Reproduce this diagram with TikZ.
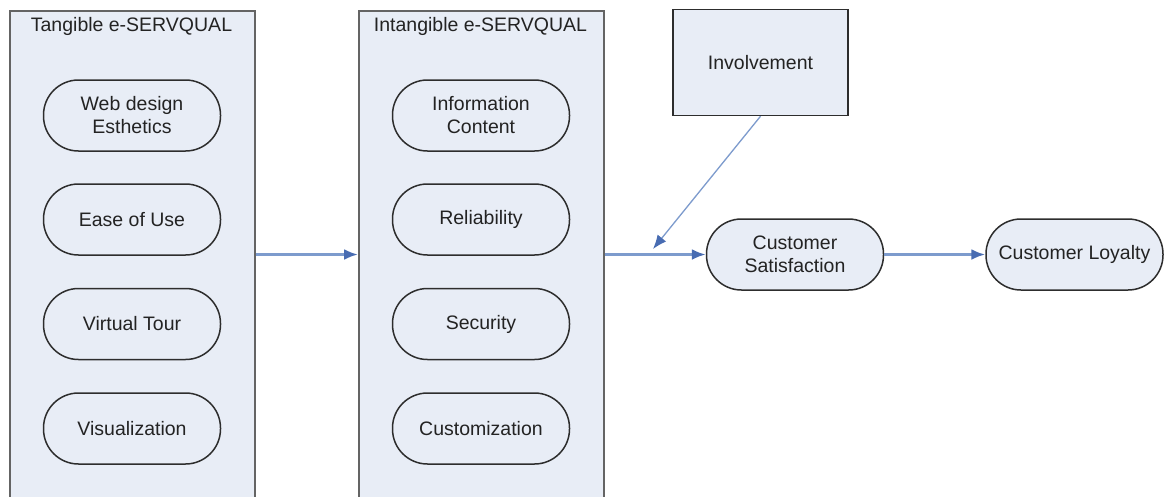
\documentclass[tikz,border=0pt]{standalone}
\usepackage{fontspec}
\setmainfont{Liberation Sans}
\usetikzlibrary{arrows.meta}
\definecolor{panelfill}{RGB}{232,237,246}
\definecolor{panelline}{RGB}{100,100,100}
\definecolor{shapeline}{RGB}{45,45,45}
\definecolor{txt}{RGB}{35,35,35}
\definecolor{arrline}{RGB}{125,155,205}
\definecolor{arrhead}{RGB}{72,108,178}
\tikzset{
  panel/.style={draw=panelline, line width=1.8pt, fill=panelfill, minimum width=245pt, minimum height=520pt, anchor=north west, inner sep=0pt},
  paneltitle/.style={text=txt, font=\fontsize{19.5}{23}\selectfont, anchor=center, inner sep=0pt},
  stadium/.style={draw=shapeline, line width=1.5pt, fill=panelfill, rounded corners=35pt, minimum width=177pt, minimum height=71pt, align=center, text=txt, font=\fontsize{19.5}{23}\selectfont, inner sep=0pt},
  boxnode/.style={draw=shapeline, line width=1.5pt, fill=panelfill, minimum width=175pt, minimum height=106pt, text=txt, font=\fontsize{19.5}{23}\selectfont, inner sep=0pt},
  flow/.style={draw=arrline, line width=2.6pt, -{Latex[length=14pt,width=11pt,color=arrhead]}},
  thinflow/.style={draw=arrline, line width=1.3pt, -{Latex[length=14pt,width=11pt,color=arrhead]}}
}
\begin{document}
\begin{tikzpicture}[x=1pt,y=-1pt]
\clip (0,0) rectangle (1168,496);
\fill[white] (0,0) rectangle (1168,496);
% panels
\node[panel] (tang) at (9,10) {};
\node[panel] (intang) at (358,10) {};
\node[paneltitle] (tangt) at (131.5,26) {Tangible e-SERVQUAL};
\node[paneltitle] (intangt) at (480.5,26) {Intangible e-SERVQUAL};
% tangible items
\node[stadium] (web) at (132,115.5) {Web design\\Esthetics};
\node[stadium] (ease) at (132,219.5) {Ease of Use};
\node[stadium] (tour) at (132,324) {Virtual Tour};
\node[stadium] (vis) at (132,428.5) {Visualization};
% intangible items
\node[stadium] (info) at (481,115.5) {Information\\Content};
\node[stadium] (rel) at (481,219.5) {Reliability};
\node[stadium] (sec) at (481,324) {Security};
\node[stadium] (cust) at (481,428.5) {Customization};
% right side
\node[boxnode] (inv) at (760.5,62.5) {Involvement};
\node[stadium] (sat) at (795,254.5) {Customer\\Satisfaction};
\node[stadium] (loy) at (1074.5,254.5) {Customer Loyalty};
\coordinate (join) at (653,249);
% connectors
\draw[flow] (tang.east |- sat.west) -- (intang.west |- sat.west);
\draw[flow] (intang.east |- sat.west) -- (sat.west);
\draw[flow] (sat.east) -- (loy.west);
\draw[thinflow] (inv.south) -- (join);
\end{tikzpicture}
\end{document}
